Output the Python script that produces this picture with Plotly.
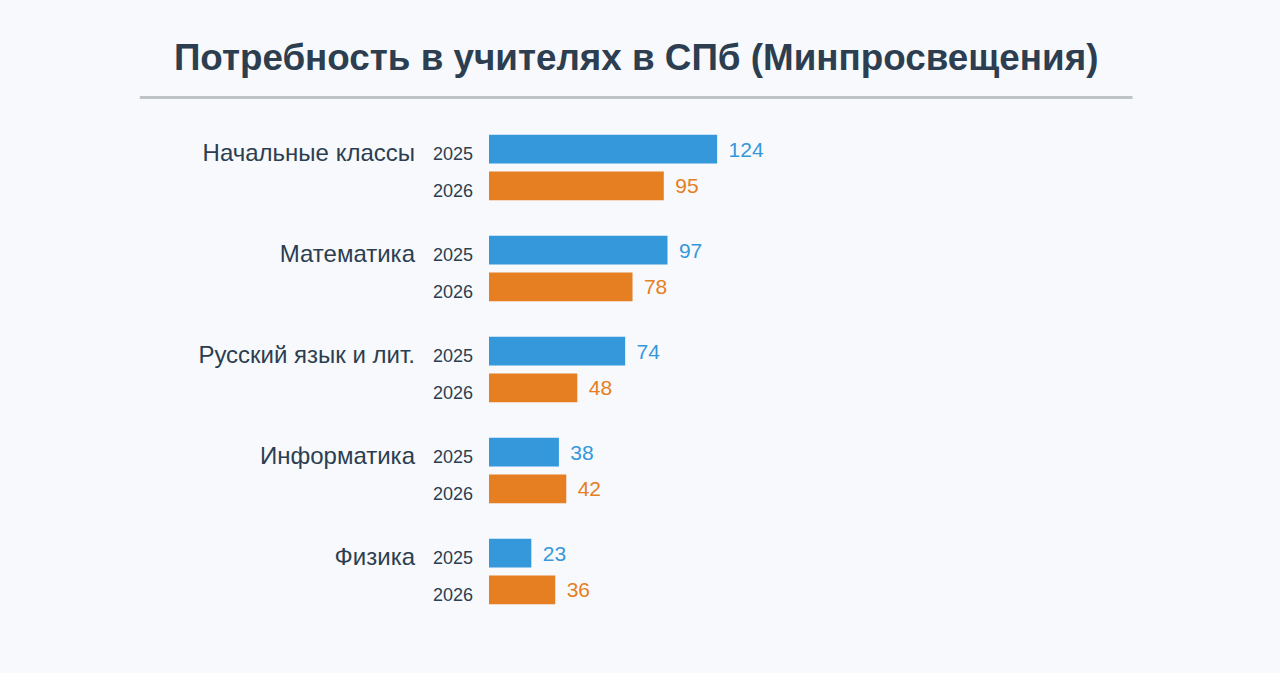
import plotly.graph_objects as go

# data
subjects = ["Начальные классы", "Математика", "Русский язык и лит.", "Информатика", "Физика"]
years = ["2025", "2026"]
need_2025 = [124, 97, 74, 38, 23]
need_2026 = [95, 78, 48, 42, 36]

blue = "#3498db"
orange = "#e67e22"
dark = "#2c3e50"
font_family = "Liberation Sans, Arial, sans-serif"

fig = go.Figure()

for yr, vals, col in [(years[0], need_2025, blue), (years[1], need_2026, orange)]:
    fig.add_trace(go.Bar(
        y=subjects, x=vals, name=yr, orientation="h",
        marker=dict(color=col, line=dict(width=0)),
        text=vals, texttemplate="\u2009\u2009%{text}", textposition="outside",
        outsidetextfont=dict(color=col, size=21, family=font_family),
        cliponaxis=False, hoverinfo="skip",
    ))

# year labels left of each bar
for s in subjects:
    for yr, shift in [(years[0], 14), (years[1], -23)]:
        fig.add_annotation(
            x=0, y=s, xref="x", yref="y", text=yr, showarrow=False,
            xanchor="right", yanchor="middle", xshift=-14, yshift=shift,
            font=dict(size=18, color=dark, family=font_family),
        )

# title underline
fig.add_shape(type="line", xref="paper", yref="paper",
              x0=(140 - 489) / 551.6, x1=(1132 - 489) / 551.6,
              y0=1.0385, y1=1.0385,
              line=dict(color="#bdc3c7", width=3))

fig.update_layout(
    width=1280, height=673,
    paper_bgcolor="#f7f9fc", plot_bgcolor="#f7f9fc",
    margin=dict(l=489, r=239.4, t=116.5, b=50.5),
    barmode="group", bargap=0.27, bargroupgap=0.22,
    showlegend=False,
    title=dict(
        text="<b>Потребность в учителях в СПб (Минпросвещения)</b>",
        x=0.497, xref="container", xanchor="center",
        y=1 - 57 / 673, yref="container", yanchor="middle",
        font=dict(size=36.8, color=dark, family=font_family),
    ),
    font=dict(family=font_family, color=dark),
)
fig.update_xaxes(range=[0, 300], visible=False, showgrid=False, zeroline=False)
fig.update_yaxes(
    autorange="reversed", showgrid=False, zeroline=False, showline=False,
    ticks="", ticklabelstandoff=73, ticklabelshift=15,
    tickfont=dict(size=24, color=dark, family=font_family),
)

fig.write_html("out.html", config={"displayModeBar": False},
               post_script="document.body.style.margin='0';")
